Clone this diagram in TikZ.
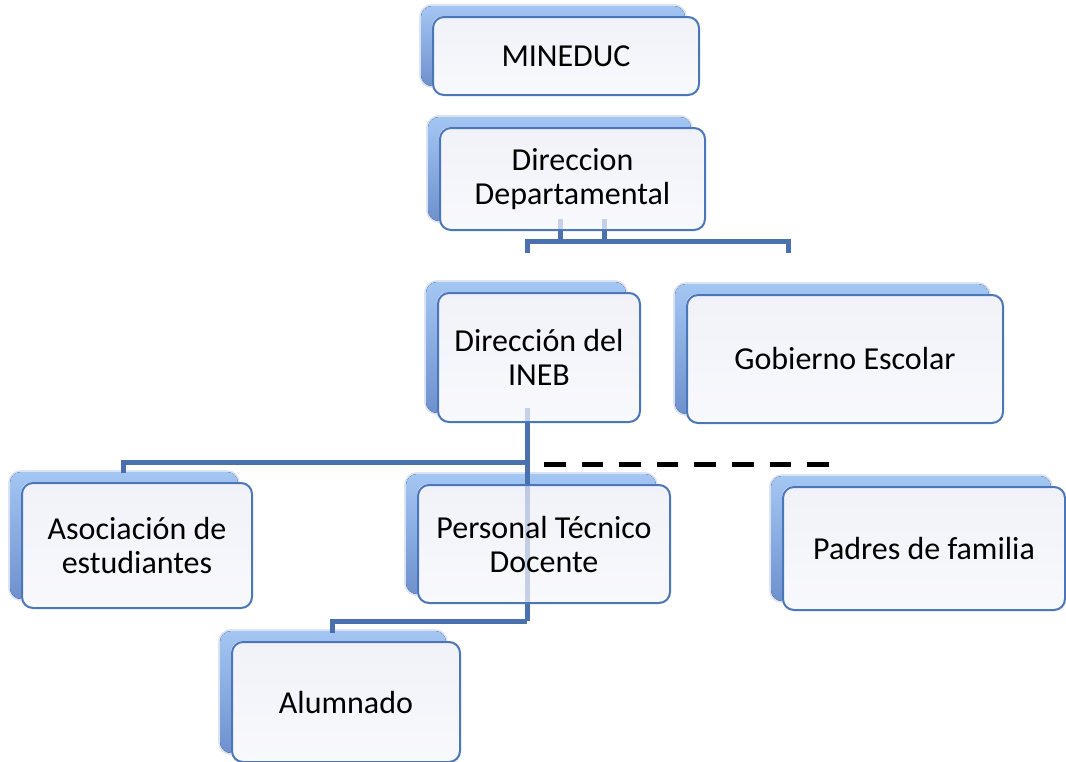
\documentclass[tikz,border=0pt]{standalone}
\usepackage{fontspec}
\setmainfont{Carlito}
\usetikzlibrary{calc}
\definecolor{shtop}{HTML}{A4C6F3}
\definecolor{shbot}{HTML}{6E91CE}
\definecolor{boxborder}{HTML}{4B76B8}
\definecolor{conncol}{HTML}{4A70AE}
\definecolor{fronttop}{HTML}{ECEEF7}
\definecolor{frontbot}{HTML}{F6F7FC}
\pgfdeclarelayer{bg}
\pgfdeclarelayer{mid}
\pgfsetlayers{bg,mid,main}
\tikzset{
  front/.style={draw=boxborder, line width=2pt, rounded corners=11pt,
    top color=fronttop, bottom color=frontbot, fill opacity=0.72, text opacity=1,
    align=center, inner sep=0pt, font=\fontsize{32}{34}\selectfont},
  shadowbox/.style={rounded corners=11pt, top color=shtop, bottom color=shbot},
  shadowblur/.style={rounded corners=13pt, fill=shbot, fill opacity=0.25},
  underlay/.style={rounded corners=11pt, fill=white},
  conn/.style={draw=conncol, line width=5pt},
  dashconn/.style={draw=black, line width=5pt, dash pattern=on 21.6pt off 16pt}
}
\newcommand\orgbox[6]{%
  \node[front, minimum width=#4pt, minimum height=#5pt] (#1) at (#2,#3) {#6};
  \begin{pgfonlayer}{bg}
    \fill[shadowblur] ($(#1.north west)+(-13,-12)$) rectangle ($(#1.south east)+(-13,-8)$);
    \fill[shadowbox] ($(#1.north west)+(-11,-10)$) rectangle ($(#1.south east)+(-15,-10)$);
    \fill[underlay] (#1.north west) rectangle (#1.south east);
  \end{pgfonlayer}}
\begin{document}
\begin{tikzpicture}[x=1pt,y=-1pt]
\useasboundingbox (0,0) rectangle (1066,761);
\orgbox{min}{566}{56}{266}{78}{MINEDUC}
\orgbox{dd}{572.5}{179}{265}{102}{Direccion\\Departamental}
\orgbox{ineb}{539}{357.5}{202}{129}{Dirección del\\INEB}
\orgbox{gob}{845}{359}{316}{128}{Gobierno Escolar}
\orgbox{aso}{137}{545.5}{230}{125}{Asociación de\\estudiantes}
\orgbox{ptd}{544}{544}{252}{118}{Personal Técnico\\Docente}
\orgbox{pad}{924}{548.5}{282}{123}{Padres de familia}
\orgbox{alu}{346}{702}{228}{120}{Alumnado}
\begin{pgfonlayer}{mid}
  % Direccion Departamental bus
  \coordinate (ddbus) at (527,241);
  \coordinate (ddbusR) at (788,241);
  \coordinate (ddL) at (527,253);
  \coordinate (ddR) at (788,253);
  \draw[conn] ([xshift=-12.5pt,yshift=12pt]dd.south) -- ([xshift=-12.5pt]dd.south |- ddbus);
  \draw[conn] ([xshift=31.5pt,yshift=12pt]dd.south) -- ([xshift=31.5pt]dd.south |- ddbus);
  \draw[conn] (ddL) -- (ddbus) -- (ddbusR) -- (ddR);
  % INEB trunk
  \coordinate (trtop) at (527,408);
  \coordinate (bus2) at (527,462);
  \coordinate (bus3) at (527,621);
  \coordinate (asotop) at (123,473);
  \coordinate (alutop) at (332,633);
  \draw[conn] (trtop) -- (bus2) -- (bus3);
  \draw[conn] (bus2) -| (asotop);
  \draw[conn] (bus3) -| (alutop);
  \draw[dashconn] (544,464) -- (829,464);
\end{pgfonlayer}
\end{tikzpicture}
\end{document}
